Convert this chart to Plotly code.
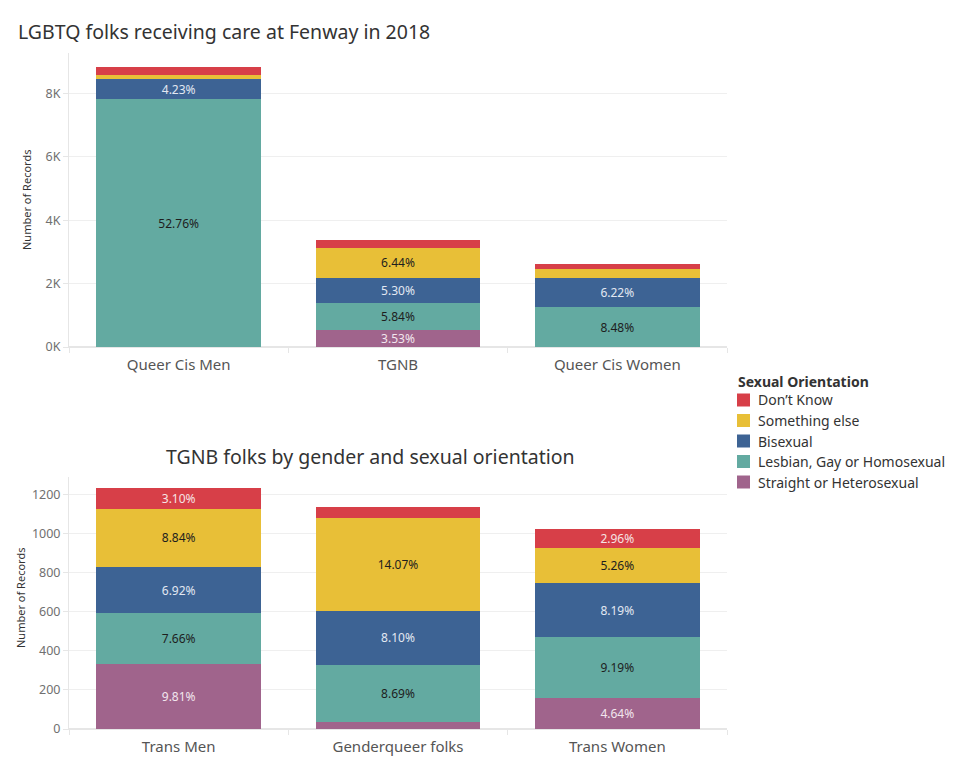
import plotly.graph_objects as go

W, H = 975, 780

# ---------- data ----------
orientations = ["Straight or Heterosexual", "Lesbian, Gay or Homosexual", "Bisexual",
                "Something else", "Don\u2019t Know"]
colors = ["#A0648C", "#63AAA1", "#3D6394", "#E8BF37", "#D73F48"]
text_colors = ["#F2E6EE", "#1E1E1E", "#E2E8F2", "#1E1E1E", "#F6E4E5"]

top_categories = ["Queer Cis Men", "TGNB", "Queer Cis Women"]
top_straight = [0, 523, 0]
top_lgb = [7812, 865, 1256]
top_bi = [626, 785, 921]
top_something = [126, 954, 280]
top_dontknow = [253, 242, 150]
top_lbl_straight = ["", "3.53%", ""]
top_lbl_lgb = ["52.76%", "5.84%", "8.48%"]
top_lbl_bi = ["4.23%", "5.30%", "6.22%"]
top_lbl_something = ["", "6.44%", ""]
top_lbl_dontknow = ["", "", ""]
top_tickvals = [0, 2000, 4000, 6000, 8000]
top_ticktext = ["0K", "2K", "4K", "6K", "8K"]

bot_categories = ["Trans Men", "Genderqueer folks", "Trans Women"]
bot_straight = [333, 34, 157]
bot_lgb = [260, 295, 312]
bot_bi = [235, 275, 278]
bot_something = [300, 477, 178]
bot_dontknow = [105, 54, 100]
bot_lbl_straight = ["9.81%", "", "4.64%"]
bot_lbl_lgb = ["7.66%", "8.69%", "9.19%"]
bot_lbl_bi = ["6.92%", "8.10%", "8.19%"]
bot_lbl_something = ["8.84%", "14.07%", "5.26%"]
bot_lbl_dontknow = ["3.10%", "", "2.96%"]
bot_tickvals = [0, 200, 400, 600, 800, 1000, 1200]
bot_ticktext = ["0", "200", "400", "600", "800", "1000", "1200"]

legend_title = "Sexual Orientation"
legend_order = [4, 3, 2, 1, 0]  # top of stack first

FONT = "Noto Sans"

top_vals = [top_straight, top_lgb, top_bi, top_something, top_dontknow]
top_lbls = [top_lbl_straight, top_lbl_lgb, top_lbl_bi, top_lbl_something, top_lbl_dontknow]
bot_vals = [bot_straight, bot_lgb, bot_bi, bot_something, bot_dontknow]
bot_lbls = [bot_lbl_straight, bot_lbl_lgb, bot_lbl_bi, bot_lbl_something, bot_lbl_dontknow]

fig = go.Figure()

for xa, ya, cats, vals, lbls in [("x", "y", top_categories, top_vals, top_lbls),
                                  ("x2", "y2", bot_categories, bot_vals, bot_lbls)]:
    for i, name in enumerate(orientations):
        fig.add_trace(go.Bar(
            x=cats, y=vals[i], name=name, text=lbls[i],
            marker=dict(color=colors[i], line=dict(width=0)),
            textposition="inside", insidetextanchor="middle", textangle=0,
            textfont=dict(color=text_colors[i], size=12, family=FONT),
            xaxis=xa, yaxis=ya, showlegend=False, hoverinfo="skip"))

xd = [69 / W, 727 / W]


def yd(top_px, bot_px):
    return [1 - bot_px / H, 1 - top_px / H]


common_x = dict(domain=xd, showgrid=False, showline=True, linecolor="#E6E6E6",
                ticks="outside", tickson="boundaries", ticklen=5, tickcolor="#E6E6E6",
                ticklabelstandoff=4, automargin=False,
                tickfont=dict(size=15, color="#555555", family=FONT), fixedrange=True)
common_y = dict(showgrid=True, gridcolor="#EFEFEF", zeroline=True, zerolinecolor="#E6E6E6",
                showline=True, linecolor="#E6E6E6", ticks="outside", ticklen=5,
                tickcolor="#E6E6E6", automargin=False,
                tickfont=dict(size=12.5, color="#707070", family=FONT), fixedrange=True)

annotations = [
    dict(text="LGBTQ folks receiving care at Fenway in 2018", x=16 / W, y=1 - 32 / H,
         xref="paper", yref="paper", xanchor="left", yanchor="middle", showarrow=False,
         font=dict(size=19.5, color="#333333", family=FONT)),
    dict(text="TGNB folks by gender and sexual orientation", x=370 / W, y=1 - 456 / H,
         xref="paper", yref="paper", xanchor="center", yanchor="middle", showarrow=False,
         font=dict(size=19.5, color="#333333", family=FONT)),
    dict(text="Number of Records", x=27 / W, y=1 - 200 / H, textangle=-90,
         xref="paper", yref="paper", xanchor="center", yanchor="middle", showarrow=False,
         font=dict(size=11, color="#333333", family=FONT)),
    dict(text="Number of Records", x=20 / W, y=1 - 598 / H, textangle=-90,
         xref="paper", yref="paper", xanchor="center", yanchor="middle", showarrow=False,
         font=dict(size=11, color="#333333", family=FONT)),
    dict(text="<b>" + legend_title + "</b>", x=736 / W, y=1 - 381 / H,
         xref="paper", yref="paper", xanchor="left", yanchor="middle", showarrow=False,
         font=dict(size=14, color="#333333", family=FONT)),
]
shapes = []
for k, idx in enumerate(legend_order):
    cy = 400 + k * 20.5
    shapes.append(dict(type="rect", xref="paper", yref="paper",
                       x0=737 / W, x1=750 / W, y0=1 - (cy + 6.5) / H, y1=1 - (cy - 6.5) / H,
                       fillcolor=colors[idx], line=dict(width=0)))
    annotations.append(dict(text=orientations[idx], x=756 / W, y=1 - cy / H,
                            xref="paper", yref="paper", xanchor="left", yanchor="middle",
                            showarrow=False, font=dict(size=14, color="#333333", family=FONT)))

fig.update_layout(
    width=W, height=H,
    autosize=False,
    margin=dict(l=0, r=0, t=0, b=0, pad=0, autoexpand=False),
    paper_bgcolor="white", plot_bgcolor="white",
    barmode="stack", bargap=0.25,
    uniformtext=dict(minsize=12, mode="show"),
    font=dict(family=FONT, color="#333333"),
    showlegend=False,
    xaxis=dict(**common_x, anchor="y"),
    yaxis=dict(**common_y, domain=yd(53, 347), range=[0, 9270], anchor="x",
               tickvals=top_tickvals, ticktext=top_ticktext),
    xaxis2=dict(**common_x, anchor="y2"),
    yaxis2=dict(**common_y, domain=yd(477, 729), range=[0, 1290], anchor="x2",
                tickvals=bot_tickvals, ticktext=bot_ticktext),
    annotations=annotations,
    shapes=shapes,
)

fig.write_html("out.html", config={"displayModeBar": False},
               post_script="document.body.style.margin='0';document.body.style.overflow='hidden';")
